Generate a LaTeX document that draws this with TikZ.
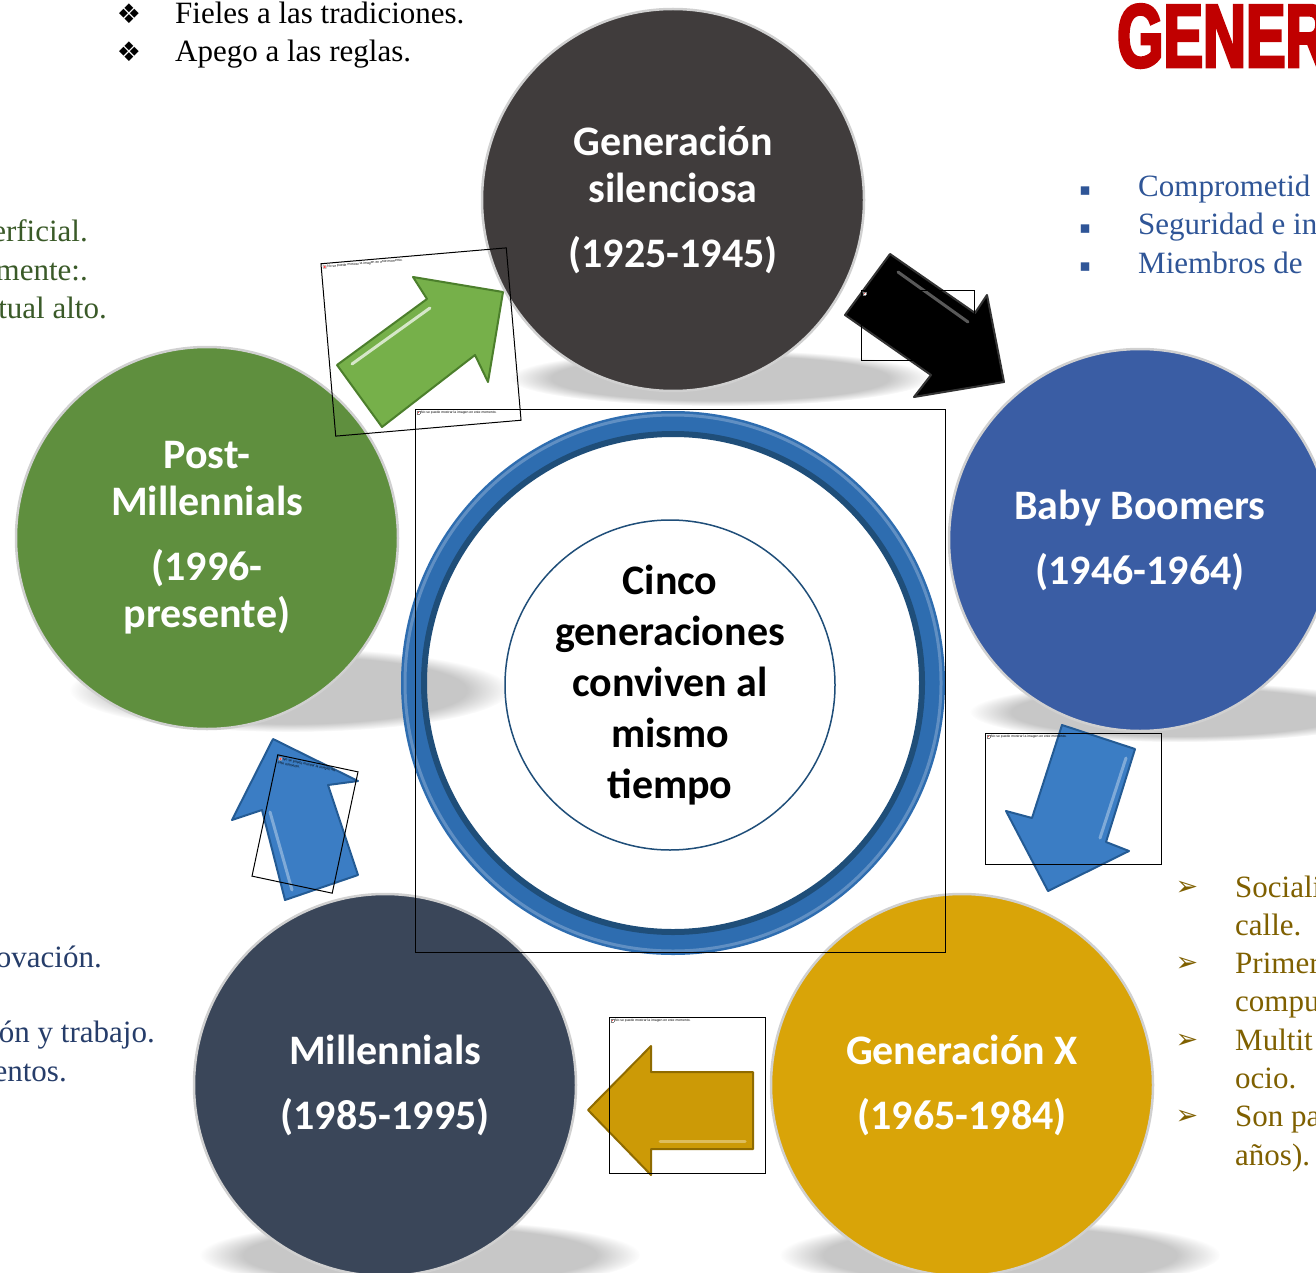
\documentclass[tikz,border=0pt]{standalone}
\usepackage{fontspec}
\setmainfont{Liberation Serif}
\newfontfamily\calfont{Carlito}
\newfontfamily\dejafont{DejaVu Sans}
\newfontfamily\headfont{Liberation Sans}
\newfontfamily\impactfont[FakeStretch=0.66,FakeBold=3]{Liberation Sans}
\usetikzlibrary{fadings}

\definecolor{silentgray}{HTML}{403C3C}
\definecolor{boomblue}{HTML}{3A5DA4}
\definecolor{xgold}{HTML}{D9A408}
\definecolor{millslate}{HTML}{3A4659}
\definecolor{postgreen}{HTML}{5F8F3E}
\definecolor{ringblue}{HTML}{2E6DB0}
\definecolor{ringdark}{HTML}{1F4E79}
\definecolor{rimgray}{HTML}{D0D0D0}
\definecolor{genred}{HTML}{C00000}
\definecolor{leafgreen}{HTML}{3A5A28}
\definecolor{navytext}{HTML}{263D6A}
\definecolor{bluetext}{HTML}{2F5597}
\definecolor{browntext}{HTML}{7F6000}
\definecolor{arrgreen}{HTML}{76B04A}
\definecolor{arrgreendk}{HTML}{4C7F2C}
\definecolor{arrblue}{HTML}{3B7DC4}
\definecolor{arrbluedk}{HTML}{245B94}
\definecolor{arrgold}{HTML}{CC9A06}
\definecolor{arrgolddk}{HTML}{8F6B00}

\newcommand\imgicon{{\setlength\fboxsep{0.4pt}\setlength\fboxrule{0.3pt}\fcolorbox{gray}{white}{\textcolor{red!70}{\rule{2pt}{2pt}}}}}

\begin{document}
\begin{tikzpicture}[x=1pt, y=-1pt,
  gen/.style={circle, minimum size=382, inner sep=0, draw=rimgray, line width=2.5, text=white, align=center,
    font=\calfont\bfseries\fontsize{42}{47}\selectfont},
  softshade/.style={fill=black, opacity=0.22, path fading=circle with fuzzy edge 20 percent},
  imgframe/.style={draw=black, line width=1, inner sep=0},
  noimg/.style={anchor=north west, inner sep=2, align=left, font=\headfont\fontsize{3.4}{4.2}\selectfont},
  bul/.style={anchor=base, inner sep=0, font=\dejafont\fontsize{27}{30}\selectfont},
  listtxt/.style={anchor=base west, inner sep=0, font=\fontsize{31}{36}\selectfont},
  listend/.style={anchor=base east, inner sep=0, font=\fontsize{31}{36}\selectfont},
  gleam/.style={line width=3, line cap=round, opacity=0.7}]

\clip (0,0) rectangle (1316,1273);
\fill[white] (0,0) rectangle (1316,1273);

% shadows under the circles
\fill[softshade] (720,378) ellipse [x radius=210, y radius=28];
\fill[softshade] (1180,712) ellipse [x radius=210, y radius=30];
\fill[softshade] (1000,1255) ellipse [x radius=220, y radius=35];
\fill[softshade] (420,1255) ellipse [x radius=220, y radius=35];
\fill[softshade] (290,690) ellipse [x radius=220, y radius=42];

% side texts
\foreach \t [count=\i] in {Fieles a las tradiciones., Apego a las reglas.} {
  \node[bul] (tlb\i) at (129,{24+38*(\i-1)}) {❖};
  \node[listtxt] (tl\i) at (175,{24+38*(\i-1)}) {\t};
}
\foreach \t [count=\i] in {erficial., mente:., tual alto.} {
  \node[listend, text=leafgreen] (lg\i) at ({\i==3 ? 107 : 88},{242+38*(\i-1)}) {\t};
}
\node[listend, text=navytext] (ln1) at (102,967) {ovación.};
\node[listend, text=navytext] (ln2) at (155,1042) {ón y trabajo.};
\node[listend, text=navytext] (ln3) at (67,1081) {entos.};

\node[anchor=north west, inner sep=0, text=genred, font=\impactfont\bfseries\fontsize{90}{90}\selectfont] (title) at (1117,4) {GENER};
\foreach \t [count=\i] in {Comprometid, Seguridad e in, Miembros de} {
  \node[bul, text=bluetext, font=\dejafont\fontsize{17}{20}\selectfont] (rbb\i) at (1085,{196+38*(\i-1)}) {▪};
  \node[listtxt, text=bluetext] (rb\i) at (1138,{197+38*(\i-1)}) {\t};
}
\foreach \t [count=\i] in {Sociali, calle., Primer, compu, Multit, ocio., Son pa, años).} {
  \node[listtxt, text=browntext] (rg\i) at (1235,{897+38.3*(\i-1)}) {\t};
}
\foreach \i in {1,3,5,7} {
  \node[bul, text=browntext] (rgb\i) at (1187,{895+38.3*(\i-1)}) {➢};
}

% generations
\node[gen, fill=silentgray] (silent) at (673,200) {Generación\\silenciosa\\[18pt](1925-1945)};
\node[gen, fill=boomblue] (boomers) at (1140,540) {Baby Boomers\\[18pt](1946-1964)};
\node[gen, fill=xgold] (genx) at (962,1085) {Generación X\\[18pt](1965-1984)};
\node[gen, fill=millslate] (mill) at (385,1085) {Millennials\\[18pt](1985-1995)};
\node[gen, fill=postgreen] (post) at (207,538) {Post-\\Millennials\\[18pt](1996-\\presente)};

% center
\node[circle, minimum size=520, inner sep=0, draw=ringblue, line width=24] (ring) at (673,683) {};
\draw[ringdark, line width=6] (ring.center) circle [radius=249];
\draw[ringblue!60!white, line width=3, opacity=0.6] (ring.center) circle [radius=268];
\node[circle, minimum size=330, inner sep=0, draw=ringdark, line width=1.5, fill=white] (core) at (670,685) {};
\node[align=center, inner sep=0, font=\calfont\bfseries\fontsize{42}{51}\selectfont] (coretext) at (core.center)
  {Cinco\\generaciones\\conviven al\\mismo\\tiempo};

% arrows
\filldraw[fill=arrgreen, draw=arrgreendk, line width=2, line join=round]
  (337,365) -- (427,299) -- (413,277) -- (503,292) -- (488,382) -- (475,355) -- (382,427) -- cycle;
\draw[gleam, white] (352,364) -- (430,308);
\filldraw[fill=black, draw=black!80, line width=2, line join=round]
  (890,254) -- (975,313) -- (987,295) -- (1004,382) -- (914,397) -- (931,375) -- (845,315) -- cycle;
\draw[gleam, gray] (898,272) -- (968,322);
\filldraw[fill=arrblue, draw=arrbluedk, line width=2, line join=round]
  (1062,725) -- (1135,749) -- (1106,842) -- (1129,851) -- (1048,891) -- (1006,811) -- (1032,818) -- cycle;
\draw[gleam, arrblue!50!white] (1126,758) -- (1100,838);
\filldraw[fill=arrblue, draw=arrbluedk, line width=2, line join=round]
  (273,739) -- (358,781) -- (328,785) -- (358,875) -- (285,900) -- (262,810) -- (232,820) -- cycle;
\draw[gleam, arrblue!50!white] (270,812) -- (292,890);
\filldraw[fill=arrgold, draw=arrgolddk, line width=2, line join=round]
  (588,1110) -- (651,1046) -- (651,1072) -- (753,1072) -- (753,1149) -- (651,1149) -- (651,1175) -- cycle;
\draw[gleam, arrgold!50!white] (660,1141) -- (745,1141);

% image frames
\node[imgframe, minimum width=186, minimum height=173, rotate=4.9] (fgreen) at (421,342) {};
\node[noimg, rotate=4.9] (tgreen) at (fgreen.north west) {\imgicon\ No se puede mostrar la imagen en este momento.};
\node[imgframe, minimum width=530, minimum height=543] (fcenter) at (680,680.5) {};
\node[noimg] (tcenter) at (fcenter.north west) {\imgicon\ No se puede mostrar la imagen en este momento.};
\node[imgframe, minimum width=113, minimum height=70] (fblack) at (917.5,325) {};
\node[noimg] (tblack) at (fblack.north west) {\imgicon};
\node[imgframe, minimum width=176, minimum height=131] (fdown) at (1073,798.5) {};
\node[noimg] (tdown) at (fdown.north west) {\imgicon\ No se puede mostrar la imagen en este momento.};
\node[imgframe, minimum width=82, minimum height=124, rotate=-12] (fup) at (305,824) {};
\node[noimg, rotate=-12, text width=60] (tup) at (fup.north west) {\imgicon\ No se puede mostrar la imagen en este momento.};
\node[imgframe, minimum width=156, minimum height=156] (fgold) at (687,1095) {};
\node[noimg] (tgold) at (fgold.north west) {\imgicon\ No se puede mostrar la imagen en este momento.};

\end{tikzpicture}
\end{document}
